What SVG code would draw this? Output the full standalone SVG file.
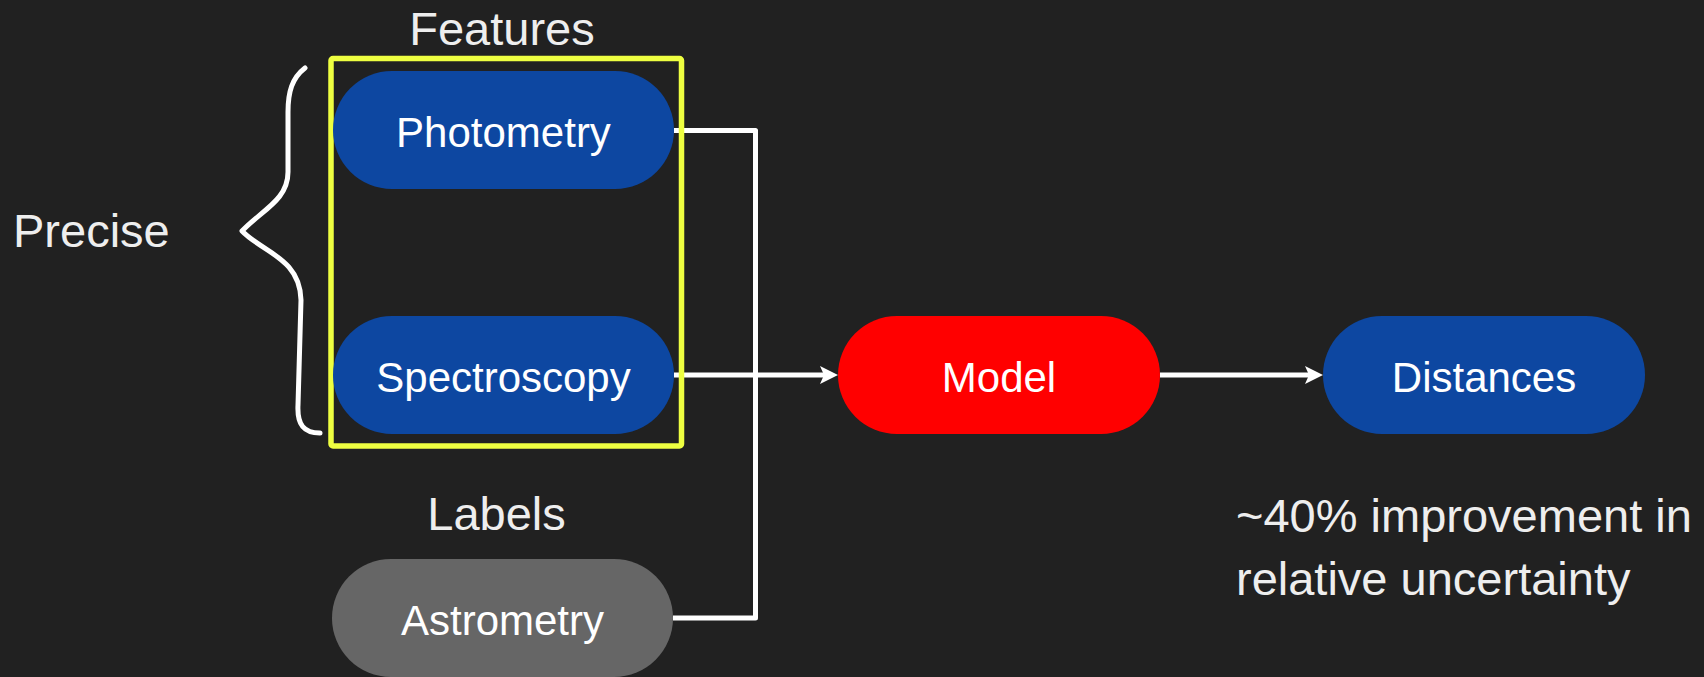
<svg xmlns="http://www.w3.org/2000/svg" width="1704" height="677" viewBox="0 0 1704 677">
  <style>
    .pill-blue { fill: #0d47a1; }
    .pill-gray { fill: #666666; }
    .pill-red { fill: #ff0000; }
    .node-text { font-family: "Liberation Sans", Arial, sans-serif; font-size: 42px; fill: #ffffff; text-anchor: middle; }
    .label { font-family: "Liberation Sans", Arial, sans-serif; font-size: 47px; fill: #eeeeee; }
    .wire { fill: none; stroke: #ffffff; stroke-width: 5; stroke-linejoin: round; }
  </style>
  <defs>
    <marker id="arrow" viewBox="0 0 18 18" refX="6" refY="9" markerWidth="18" markerHeight="18" markerUnits="userSpaceOnUse" orient="auto">
      <path d="M0,0 L18,9 L0,18 L4,9 Z" fill="#ffffff"/>
    </marker>
  </defs>

  <rect width="1704" height="677" fill="#212121"/>

  <!-- connectors (drawn under the feature frame) -->
  <g id="connectors">
    <path class="wire" d="M674,130.5 H755.5 V618 H673"/>
    <path class="wire" d="M674,375 H826" marker-end="url(#arrow)"/>
    <path class="wire" d="M1160,375 H1311" marker-end="url(#arrow)"/>
  </g>

  <!-- feature grouping frame with its title -->
  <g id="features-group">
    <rect x="331" y="58.5" width="350.5" height="387.5" rx="2" fill="none" stroke="#eeff41" stroke-width="5.5"/>
    <text class="label" x="502" y="45" text-anchor="middle">Features</text>
  </g>

  <!-- curly brace and its label -->
  <g id="precise-brace">
    <path class="wire" stroke-linecap="round" d="M305,68 C292,78 288,92 288,112 L288,172 C288,200 262,210 242,231 C262,252 300,258 301,300 L298,405 C297,425 304,433 320,433"/>
    <text class="label" x="13" y="247">Precise</text>
  </g>

  <g id="node-photometry">
    <rect class="pill-blue" x="333" y="71" width="341" height="118" rx="59"/>
    <text class="node-text" x="503.5" y="146.5">Photometry</text>
  </g>

  <g id="node-spectroscopy">
    <rect class="pill-blue" x="333" y="316" width="341" height="118" rx="59"/>
    <text class="node-text" x="503.5" y="391.5">Spectroscopy</text>
  </g>

  <g id="labels-title">
    <text class="label" x="496.5" y="530" text-anchor="middle">Labels</text>
  </g>

  <g id="node-astrometry">
    <rect class="pill-gray" x="332" y="559" width="341" height="118" rx="59"/>
    <text class="node-text" x="502.5" y="635">Astrometry</text>
  </g>

  <g id="node-model">
    <rect class="pill-red" x="838" y="316" width="322" height="118" rx="59"/>
    <text class="node-text" x="999" y="391.5">Model</text>
  </g>

  <g id="node-distances">
    <rect class="pill-blue" x="1323" y="316" width="322" height="118" rx="59"/>
    <text class="node-text" x="1484" y="391.5">Distances</text>
  </g>

  <g id="result-note">
    <text class="label" x="1236" y="532">~40% improvement in</text>
    <text class="label" x="1236" y="595">relative uncertainty</text>
  </g>
</svg>
